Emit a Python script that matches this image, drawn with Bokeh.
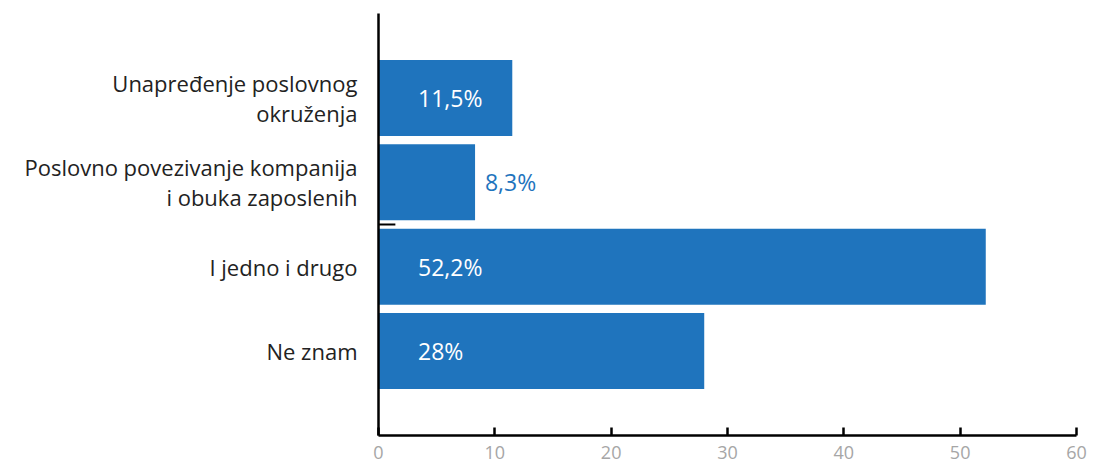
from bokeh.plotting import figure
from bokeh.models import FixedTicker, Range1d, ColumnDataSource
from bokeh.core.properties import value
from bokeh.embed import file_html
from bokeh.resources import INLINE

categories = ["Unapređenje poslovnog\nokruženja",
              "Poslovno povezivanje kompanija\ni obuka zaposlenih",
              "I jedno i drugo",
              "Ne znam"]
values = [11.5, 8.3, 52.2, 28.0]
value_labels = ["11,5%", "8,3%", "52,2%", "28%"]
x_ticks = [0, 10, 20, 30, 40, 50, 60]

n = len(categories)
ypos = [n - i for i in range(n)]

BLUE = "#1f74bd"

p = figure(width=1098, height=466, output_backend="svg", toolbar_location=None,
           x_range=Range1d(0, 60), y_range=Range1d(0, n + 1),
           min_border_left=378, min_border_right=22, min_border_top=13, min_border_bottom=31)
p.outline_line_color = None
p.xgrid.visible = False
p.ygrid.visible = False

src = ColumnDataSource(dict(y=ypos, v=values, lab=value_labels,
                            lx=[3.4 if v > 10 else v + 0.85 for v in values],
                            col=["white" if v > 10 else BLUE for v in values]))
p.hbar(y="y", right="v", left=0, height=0.9, source=src, color=BLUE, line_color=None)
p.text(x="lx", y="y", text="lab", source=src, text_color="col", text_align="left",
       text_baseline="middle", text_font=value("Open Sans"), text_font_size="23px")

# small tick on left axis between second and third bar
p.segment(x0=[0], x1=[1.45], y0=[n - 1.5], y1=[n - 1.5], line_color="black", line_width=2)

xa = p.xaxis[0]
xa.ticker = FixedTicker(ticks=x_ticks)
xa.axis_line_color = "black"
xa.axis_line_width = 2.5
xa.major_tick_in = 8
xa.major_tick_out = 0
xa.major_tick_line_width = 2.5
xa.minor_tick_line_color = None
xa.major_label_text_color = "#a6a6a6"
xa.major_label_text_font = "Open Sans"
xa.major_label_text_font_size = "18px"
xa.major_label_standoff = 10

ya = p.yaxis[0]
ya.ticker = FixedTicker(ticks=ypos)
ya.major_label_overrides = {y: c for y, c in zip(ypos, categories)}
ya.axis_line_color = "black"
ya.axis_line_width = 2.5
ya.major_tick_line_color = None
ya.minor_tick_line_color = None
ya.major_label_text_color = "#222222"
ya.major_label_text_font = "Open Sans"
ya.major_label_text_font_size = "22px"
ya.major_label_text_line_height = 1.0
ya.major_label_standoff = 15

open("out.html", "w").write(file_html(p, INLINE))
